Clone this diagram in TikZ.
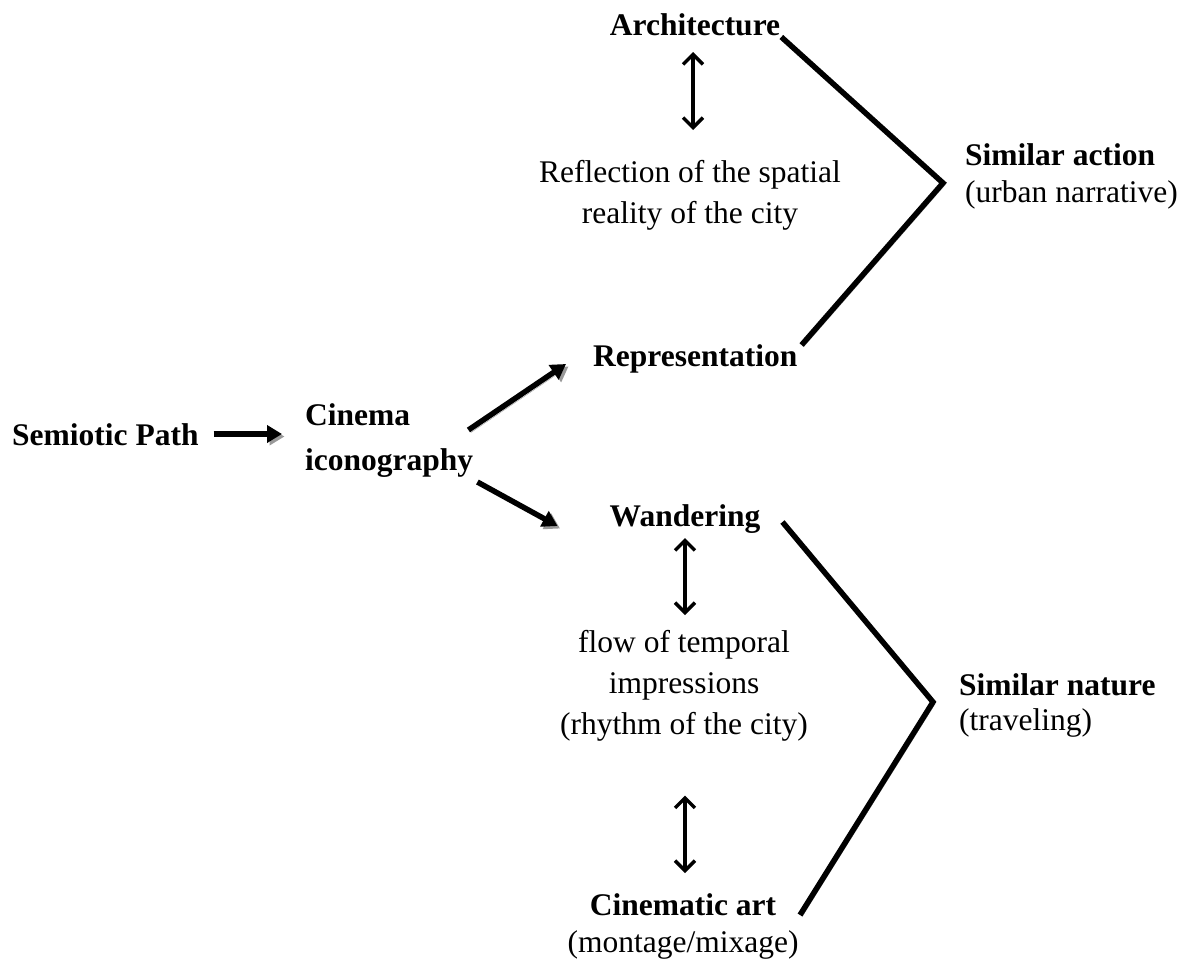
\documentclass[tikz,border=0pt]{standalone}
\usepackage{fontspec}
\setmainfont{Liberation Serif}
\usetikzlibrary{arrows.meta}
\newcommand\blk[2]{\begin{tabular}[t]{@{}#1@{}}#2\end{tabular}}
\begin{document}
\begin{tikzpicture}[x=1pt,y=-1pt,
  every node/.style={inner sep=0pt, font=\fontsize{31.5}{41}\selectfont},
  lbl/.style={font=\fontsize{31.5}{41}\selectfont\bfseries},
  fat/.style={line width=5.5pt, -{Triangle[length=15pt,width=17pt]},
    preaction={draw=black!40, transform canvas={shift={(2.5pt,-2.5pt)}}}},
  twoway/.style={line width=3.4pt,
    {Straight Barb[length=10pt,width=20pt]}-{Straight Barb[length=10pt,width=20pt]}},
  brk/.style={line width=5.5pt, line join=miter,
    preaction={draw=black!40, transform canvas={shift={(2pt,-2pt)}}}}]
\useasboundingbox (0,0) rectangle (1186,962);

% nodes
\node[lbl, anchor=base west] (sem) at (12,445) {Semiotic Path};
\node[anchor=base west] (cin) at (305,425) {\fontsize{31.5}{45}\selectfont\bfseries\blk{l}{Cinema\\iconography}};
\node[lbl, anchor=base west] (rep) at (593,366) {Representation};
\node[lbl, anchor=base] (arch) at (695,35) {Architecture};
\node[anchor=base] (refl) at (690,182) {\blk{c}{Reflection of the spatial\\reality of the city}};
\node[anchor=base west] (simact) at (965,165) {\fontsize{31.5}{37}\selectfont\blk{l}{\textbf{Similar action}\\(urban narrative)}};
\node[lbl, anchor=base] (wand) at (685,526) {Wandering};
\node[anchor=base] (flow) at (684,652) {\blk{c}{flow of temporal\\impressions\\(rhythm of the city)}};
\node[anchor=base] (cinart) at (683,915) {\fontsize{31.5}{37}\selectfont\blk{c}{\textbf{Cinematic art}\\(montage/mixage)}};
\node[anchor=base west] (simnat) at (959,695) {\fontsize{31.5}{35}\selectfont\blk{l}{\textbf{Similar nature}\\(traveling)}};

% bracket vertices
\coordinate (v1) at (943,183);
\coordinate (v2) at (933,702);

% brackets
\draw[brk] ([xshift=1pt,yshift=-2pt]arch.base east) -- (v1) -- ([xshift=4pt,yshift=21pt]rep.base east);
\draw[brk] ([xshift=22pt,yshift=4pt]wand.base east) -- (v2) -- ([xshift=117pt]cinart.base);

% double arrows
\draw[twoway] ([xshift=-2pt,yshift=-17pt]arch.base) -- ([xshift=3pt,yshift=52pt]refl.base);
\draw[twoway] ([yshift=-12pt]wand.base) -- ([xshift=1pt,yshift=37pt]flow.base);
\draw[twoway] ([xshift=1pt,yshift=-49pt]flow.south) -- ([xshift=2pt,yshift=42pt]cinart.base);

% fat arrows
\draw[fat] ([xshift=15pt,yshift=11pt]sem.base east) -- ([xshift=-23pt,yshift=-9pt]cin.base west);
\draw[fat] ([xshift=-5pt,yshift=8.5pt]cin.east) -- ([xshift=-27pt,yshift=2pt]rep.base west);
\draw[fat] ([xshift=4pt,yshift=-43.5pt]cin.east) -- ([xshift=-52pt]wand.base west);
\end{tikzpicture}
\end{document}
